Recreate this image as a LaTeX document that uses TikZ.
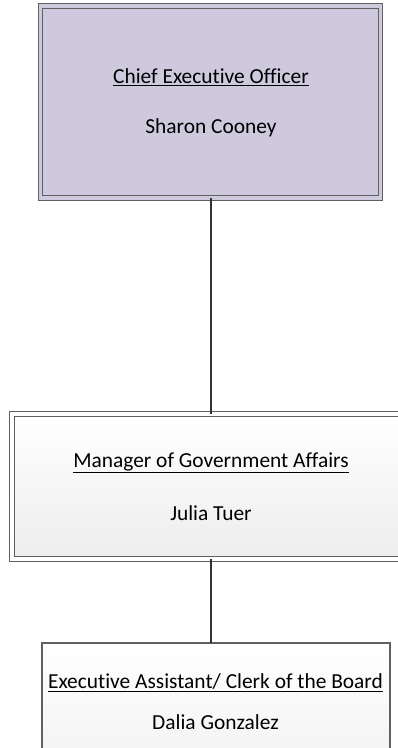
\documentclass[tikz,border=0pt]{standalone}
\usepackage{fontspec}
\setmainfont[Ligatures=NoCommon]{Carlito}
\definecolor{ceofill}{RGB}{206,201,221}
\definecolor{boxline}{RGB}{96,96,96}
\definecolor{conn}{RGB}{50,50,50}
\begin{document}
\begin{tikzpicture}[x=1pt,y=-1pt,
  every node/.style={inner sep=0pt,outer sep=0pt},
  orgbox/.style={draw=boxline,line width=1.2pt,double distance=3.5pt,rectangle},
  plainbox/.style={draw=boxline,line width=1.2pt,rectangle},
  txt/.style={font=\fontsize{21.4}{24}\selectfont,text=black},
  connector/.style={draw=conn,line width=2pt}]
\useasboundingbox (0,0) rectangle (398,748);
\clip (0,0) rectangle (398,748);
% boxes
\node[orgbox,double=ceofill,fill=ceofill,minimum width=340pt,minimum height=192pt] (ceo) at (210.5,102) {};
\node[orgbox,double=white,top color=white,bottom color=black!7,minimum width=397pt,minimum height=145pt] (mgr) at (210.5,486.5) {};
\node[plainbox,top color=white,bottom color=black!5,minimum width=348pt,minimum height=130pt] (ea) at (216,708) {};
% connectors
\draw[connector] (ceo.south) -- (mgr.north);
\draw[connector] (mgr.south) -- (mgr.south |- ea.north);
% texts
\node[txt] (ceot) at (211,77) {\underline{Chief Executive Officer}};
\node[txt] (ceon) at (211,128) {Sharon Cooney};
\node[txt] (mgrt) at (211,463) {\underline{Manager of Government Affairs}};
\node[txt] (mgrn) at (211,513) {Julia Tuer};
\node[txt] (eat) at (215.5,683) {\underline{Executive Assistant/ Clerk of the Board}};
\node[txt] (ean) at (215.5,722) {Dalia Gonzalez};
\end{tikzpicture}
\end{document}
